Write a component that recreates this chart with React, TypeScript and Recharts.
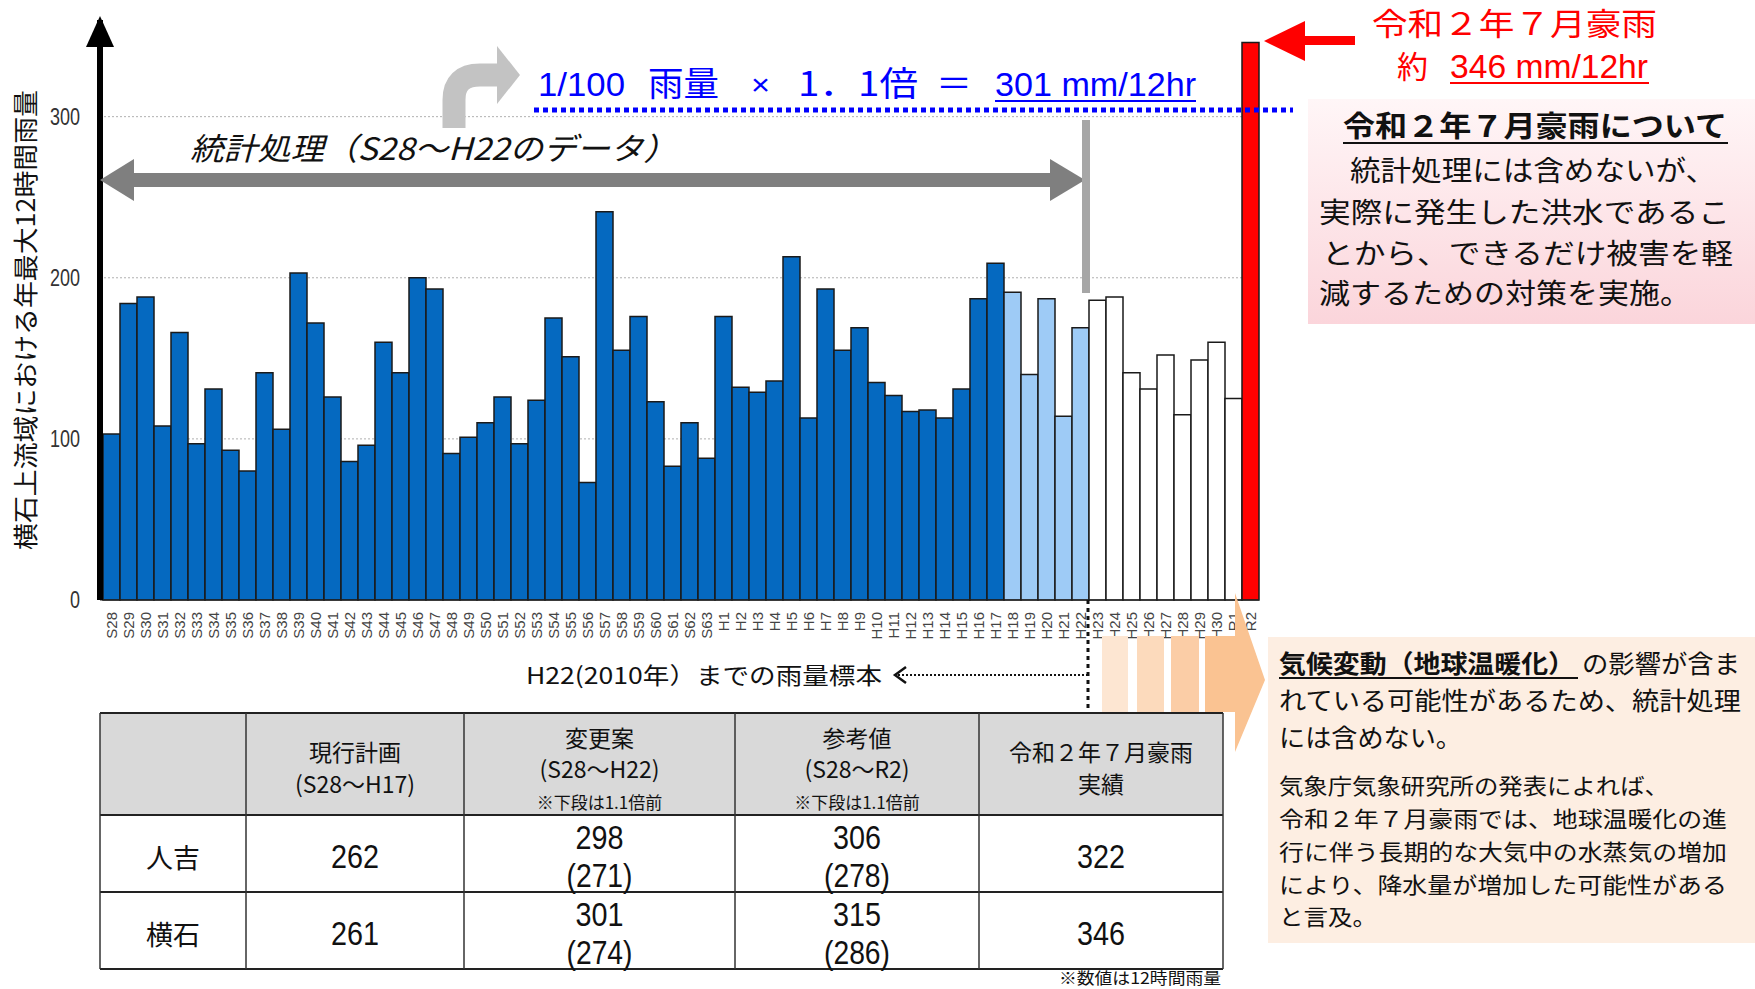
import React from 'react';
import { BarChart, Bar, XAxis, YAxis, CartesianGrid, Cell } from 'recharts';

// 年最大12時間雨量（横石上流域）
const years = [
  'S28', 'S29', 'S30', 'S31', 'S32', 'S33', 'S34', 'S35', 'S36', 'S37',
  'S38', 'S39', 'S40', 'S41', 'S42', 'S43', 'S44', 'S45', 'S46', 'S47',
  'S48', 'S49', 'S50', 'S51', 'S52', 'S53', 'S54', 'S55', 'S56', 'S57',
  'S58', 'S59', 'S60', 'S61', 'S62', 'S63',
  'H1', 'H2', 'H3', 'H4', 'H5', 'H6', 'H7', 'H8', 'H9', 'H10',
  'H11', 'H12', 'H13', 'H14', 'H15', 'H16', 'H17', 'H18', 'H19', 'H20',
  'H21', 'H22', 'H23', 'H24', 'H25', 'H26', 'H27', 'H28', 'H29', 'H30',
  'R1', 'R2',
];

const rain12h = [
  103, 184, 188, 108, 166, 97, 131, 93, 80, 141,
  106, 203, 172, 126, 86, 96, 160, 141, 200, 193,
  91, 101, 110, 126, 97, 124, 175, 151, 73, 241,
  155, 176, 123, 83, 110, 88,
  176, 132, 129, 136, 213, 113, 193, 155, 169, 135,
  127, 117, 118, 113, 131, 187, 209, 191, 140, 187,
  114, 169, 186, 188, 141, 131, 152, 115, 149, 160,
  125, 346,
];

const lightYears = ['H18', 'H19', 'H20', 'H21', 'H22'];
const excludedYears = ['H23', 'H24', 'H25', 'H26', 'H27', 'H28', 'H29', 'H30', 'R1'];
const eventYear = 'R2';
const yTicks = [0, 100, 200, 300];
const gridValues = [100, 200, 300];

// 表
const tableHeaders = [
  [''],
  ['現行計画', '(S28～H17)'],
  ['変更案', '(S28～H22)', '※下段は1.1倍前'],
  ['参考値', '(S28～R2)', '※下段は1.1倍前'],
  ['令和２年７月豪雨', '実績'],
];
const stations = ['人吉', '横石'];
const currentPlan = ['262', '261'];
const revisedPlan = ['298', '301'];
const revisedBefore = ['(271)', '(274)'];
const referenceVal = ['306', '315'];
const referenceBefore = ['(278)', '(286)'];
const actualR2 = ['322', '346'];

const data = years.map((year, i) => ({ year, rain: rain12h[i] }));

const JP = "'Noto Sans CJK JP', 'Noto Sans', sans-serif";
const NARROW = "'Liberation Sans Narrow', 'Liberation Sans', Arial, sans-serif";
const SANS = "'Liberation Sans', Arial, sans-serif";

function barColor(year: string) {
  if (year === eventYear) return '#ff0000';
  if (excludedYears.includes(year)) return '#ffffff';
  if (lightYears.includes(year)) return '#9ecbf6';
  return '#0569c0';
}

const XTick = (props: any) => {
  const { x, y, payload } = props;
  const yy = y + 2;
  return (
    <text
      x={x}
      y={yy}
      transform={`rotate(-90 ${x} ${yy})`}
      textAnchor="end"
      dominantBaseline="central"
      fontSize={15}
      fontFamily={SANS}
      fill="#444"
    >
      {payload.value}
    </text>
  );
};

const YTick = (props: any) => {
  const { x, y, payload } = props;
  const s = String(payload.value);
  return (
    <text
      x={x}
      y={y}
      textAnchor="end"
      dominantBaseline="central"
      fontSize={23}
      fontFamily={NARROW}
      fill="#333"
      textLength={s.length * 10}
      lengthAdjust="spacingAndGlyphs"
    >
      {s}
    </text>
  );
};

const colX = [100, 246, 464, 735, 979, 1223];
const rowY = [713, 815, 892, 969];

// condensed number cell
function Num({ x, y, t }: { x: number; y: number; t: string }) {
  const w = t.split('').reduce((a, c) => a + (c === '(' || c === ')' ? 9 : 16), 0);
  return (
    <text x={x} y={y} dominantBaseline="central" textAnchor="middle" fontFamily={NARROW} fontSize={34} textLength={w} lengthAdjust="spacingAndGlyphs">
      {t}
    </text>
  );
}

function Overlay() {
  const cx = (i: number) => (colX[i] + colX[i + 1]) / 2;
  return (
    <svg width={1755} height={989} style={{ position: 'absolute', left: 0, top: 0, pointerEvents: 'none' }} fontFamily={JP}>
      <defs>
        <linearGradient id="pink" x1="0" y1="0" x2="0" y2="1">
          <stop offset="0" stopColor="#fff6f7" />
          <stop offset="1" stopColor="#fbd5db" />
        </linearGradient>
      </defs>

      {/* y axis arrow head */}
      <polygon points="100,16 86,47 114,47" fill="#000" />

      {/* y axis title */}
      <text
        x={24}
        y={320}
        transform="rotate(-90 24 320)"
        textAnchor="middle"
        dominantBaseline="central"
        fontSize={25}
        textLength={460}
        lengthAdjust="spacingAndGlyphs"
        fill="#111"
      >
        横石上流域における年最大12時間雨量
      </text>

      {/* curved gray arrow */}
      <path d="M454 128 L454 100 Q454 75 480 75 L500 75" stroke="#c3c3c3" strokeWidth={23} fill="none" />
      <polygon points="497,46 520,75 497,104" fill="#c3c3c3" />

      {/* 1/100 rainfall line */}
      <g fill="#0000ff" fontSize={34}>
        <text x={538} y={96} textLength={87} lengthAdjust="spacingAndGlyphs" fontFamily={NARROW}>1/100</text>
        <text x={648} y={96} textLength={71} lengthAdjust="spacingAndGlyphs">雨量</text>
        <text x={751} y={95} fontSize={30} textLength={19} lengthAdjust="spacingAndGlyphs" fontFamily={SANS}>×</text>
        <text x={798} y={96} textLength={120} lengthAdjust="spacingAndGlyphs">1．1倍</text>
        <text x={936} y={96} textLength={36} lengthAdjust="spacingAndGlyphs">＝</text>
        <text x={995} y={96} textLength={201} lengthAdjust="spacingAndGlyphs" fontFamily={NARROW}>301 mm/12hr</text>
      </g>
      <line x1={995} x2={1196} y1={101} y2={101} stroke="#0000ff" strokeWidth={2} />
      <line x1={534} x2={1293} y1={110} y2={110} stroke="#0000ff" strokeWidth={5} strokeDasharray="5 4" />

      {/* statistical processing range */}
      <text x={190} y={160} fontSize={31} fontStyle="italic" textLength={487} lengthAdjust="spacingAndGlyphs" fill="#111">
        統計処理（S28～H22のデータ）
      </text>
      <rect x={132} y={173} width={920} height={14} fill="#7f7f7f" />
      <polygon points="100,180 134,159 134,201" fill="#7f7f7f" />
      <polygon points="1085,180 1050,159 1050,201" fill="#7f7f7f" />
      <rect x={1082} y={120} width={8} height={173} fill="#a6a6a6" />

      {/* red callout */}
      <polygon points="1264,41 1305,21 1305,61" fill="#ff0000" />
      <rect x={1303} y={36} width={52} height={9} fill="#ff0000" />
      <text x={1372} y={35} fontSize={31} textLength={285} lengthAdjust="spacingAndGlyphs" fill="#ff0000">
        令和２年７月豪雨
      </text>
      <text x={1397} y={78} fontSize={31} textLength={31} lengthAdjust="spacingAndGlyphs" fill="#ff0000">約</text>
      <text x={1450} y={78} fontSize={34} textLength={198} lengthAdjust="spacingAndGlyphs" fontFamily={NARROW} fill="#ff0000">
        346 mm/12hr
      </text>
      <line x1={1450} x2={1649} y1={83} y2={83} stroke="#ff0000" strokeWidth={2} />

      {/* pink box */}
      <rect x={1308} y={99} width={447} height={225} fill="url(#pink)" />
      <text x={1343} y={137} fontSize={29} fontWeight="bold" textLength={384} lengthAdjust="spacingAndGlyphs" fill="#111">
        令和２年７月豪雨について
      </text>
      <line x1={1343} x2={1728} y1={143} y2={143} stroke="#111" strokeWidth={2} />
      <g fontSize={28} fill="#111">
        <text x={1350} y={181} textLength={366} lengthAdjust="spacingAndGlyphs">統計処理には含めないが、</text>
        <text x={1319} y={223} textLength={411} lengthAdjust="spacingAndGlyphs">実際に発生した洪水であるこ</text>
        <text x={1322} y={264} textLength={411} lengthAdjust="spacingAndGlyphs">とから、できるだけ被害を軽</text>
        <text x={1319} y={304} textLength={372} lengthAdjust="spacingAndGlyphs">減するための対策を実施。</text>
      </g>

      {/* sample range note */}
      <text x={526} y={684} fontSize={23} textLength={356} lengthAdjust="spacingAndGlyphs" fill="#111">
        H22(2010年）までの雨量標本
      </text>
      <polyline points="906,667 895,675 906,683" fill="none" stroke="#111" strokeWidth={2.5} />
      <line x1={898} x2={1088} y1={675} y2={675} stroke="#111" strokeWidth={2} strokeDasharray="2 2" />
      <line x1={1088} x2={1088} y1={600} y2={710} stroke="#111" strokeWidth={3} strokeDasharray="4 4" />

      {/* orange arrow */}
      <rect x={1102} y={636} width={26} height={76} fill="#fde6d2" />
      <rect x={1137} y={636} width={27} height={76} fill="#fcdabc" />
      <rect x={1171} y={636} width={28} height={76} fill="#fbcda6" />
      <polygon points="1205,636 1235,636 1235,593 1265,680 1235,752 1235,712 1205,712" fill="#fac392" />

      {/* peach box */}
      <rect x={1268} y={637} width={487} height={306} fill="#fdeee2" />
      <g fill="#111">
        <text x={1279} y={673} fontSize={25} fontWeight="bold" textLength={296} lengthAdjust="spacingAndGlyphs">
          気候変動（地球温暖化）
        </text>
        <line x1={1279} x2={1578} y1={678} y2={678} stroke="#111" strokeWidth={2} />
        <text x={1582} y={673} fontSize={25} textLength={158} lengthAdjust="spacingAndGlyphs">の影響が含ま</text>
        <text x={1279} y={710} fontSize={25} textLength={462} lengthAdjust="spacingAndGlyphs">れている可能性があるため、統計処理</text>
        <text x={1279} y={747} fontSize={25} textLength={183} lengthAdjust="spacingAndGlyphs">には含めない。</text>
        <g fontSize={22}>
          <text x={1279} y={794} textLength={390} lengthAdjust="spacingAndGlyphs">気象庁気象研究所の発表によれば、</text>
          <text x={1279} y={827} textLength={448} lengthAdjust="spacingAndGlyphs">令和２年７月豪雨では、地球温暖化の進</text>
          <text x={1279} y={860} textLength={448} lengthAdjust="spacingAndGlyphs">行に伴う長期的な大気中の水蒸気の増加</text>
          <text x={1279} y={893} textLength={448} lengthAdjust="spacingAndGlyphs">により、降水量が増加した可能性がある</text>
          <text x={1279} y={925} textLength={98} lengthAdjust="spacingAndGlyphs">と言及。</text>
        </g>
      </g>

      {/* table */}
      <rect x={colX[0]} y={rowY[0]} width={colX[5] - colX[0]} height={rowY[1] - rowY[0]} fill="#d9d9d9" />
      {rowY.map((y, i) => (
        <line key={'r' + i} x1={colX[0]} x2={colX[5]} y1={y} y2={y} stroke="#222" strokeWidth={2} />
      ))}
      {colX.map((x, i) => (
        <line key={'c' + i} x1={x} x2={x} y1={rowY[0]} y2={rowY[3]} stroke="#333" strokeWidth={1.5} />
      ))}
      <g fill="#111" textAnchor="middle">
        {tableHeaders.map((lines, i) => {
          const ys = lines.length === 3 ? [737, 768, 801] : [751, 783];
          return lines.map((t, j) => (
            <text
              key={i + '-' + j}
              x={cx(i)}
              y={ys[j]}
              dominantBaseline="central"
              fontSize={j === 2 ? 17 : 23}
              fontFamily={JP}
            >
              {t}
            </text>
          ));
        })}
        {stations.map((s, r) => {
          const mid = r === 0 ? 856 : 933;
          return (
            <g key={s}>
              <text x={cx(0)} y={mid} dominantBaseline="central" fontFamily={JP} fontSize={27}>{s}</text>
              <Num x={cx(1)} y={mid} t={currentPlan[r]} />
              <Num x={cx(2)} y={mid - 19} t={revisedPlan[r]} />
              <Num x={cx(2)} y={mid + 19} t={revisedBefore[r]} />
              <Num x={cx(3)} y={mid - 19} t={referenceVal[r]} />
              <Num x={cx(3)} y={mid + 19} t={referenceBefore[r]} />
              <Num x={cx(4)} y={mid} t={actualR2[r]} />
            </g>
          );
        })}
      </g>
      <text x={1221} y={977} textAnchor="end" dominantBaseline="central" fontSize={16} textLength={162} lengthAdjust="spacingAndGlyphs" fill="#111">
        ※数値は12時間雨量
      </text>
    </svg>
  );
}

export default function App() {
  return (
    <div style={{ position: 'absolute', left: 0, top: 0, width: 1755, height: 989, background: '#fff', overflow: 'hidden' }}>
      <div style={{ position: 'absolute', left: 0, top: 0 }}>
        <BarChart width={1290} height={660} data={data} margin={{ top: 20, right: 31, left: 0, bottom: 0 }} barCategoryGap={0}>
          <CartesianGrid vertical={false} horizontalValues={gridValues} stroke="#b0b0b0" strokeDasharray="2 2" />
          <XAxis
            dataKey="year"
            interval={0}
            tick={<XTick />}
            tickLine={false}
            tickSize={0}
            tickMargin={10}
            height={60}
            padding={{ left: 3, right: 0 }}
            axisLine={{ stroke: '#222', strokeWidth: 1 }}
          />
          <YAxis
            width={100}
            domain={[0, 360]}
            ticks={yTicks}
            tick={<YTick />}
            tickLine={false}
            tickSize={0}
            tickMargin={20}
            axisLine={{ stroke: '#000', strokeWidth: 6 }}
          />
          <Bar dataKey="rain" stroke="#1a1a1a" strokeWidth={1.5} isAnimationActive={false}>
            {data.map((d) => (
              <Cell key={d.year} fill={barColor(d.year)} />
            ))}
          </Bar>
        </BarChart>
      </div>
      <Overlay />
    </div>
  );
}
